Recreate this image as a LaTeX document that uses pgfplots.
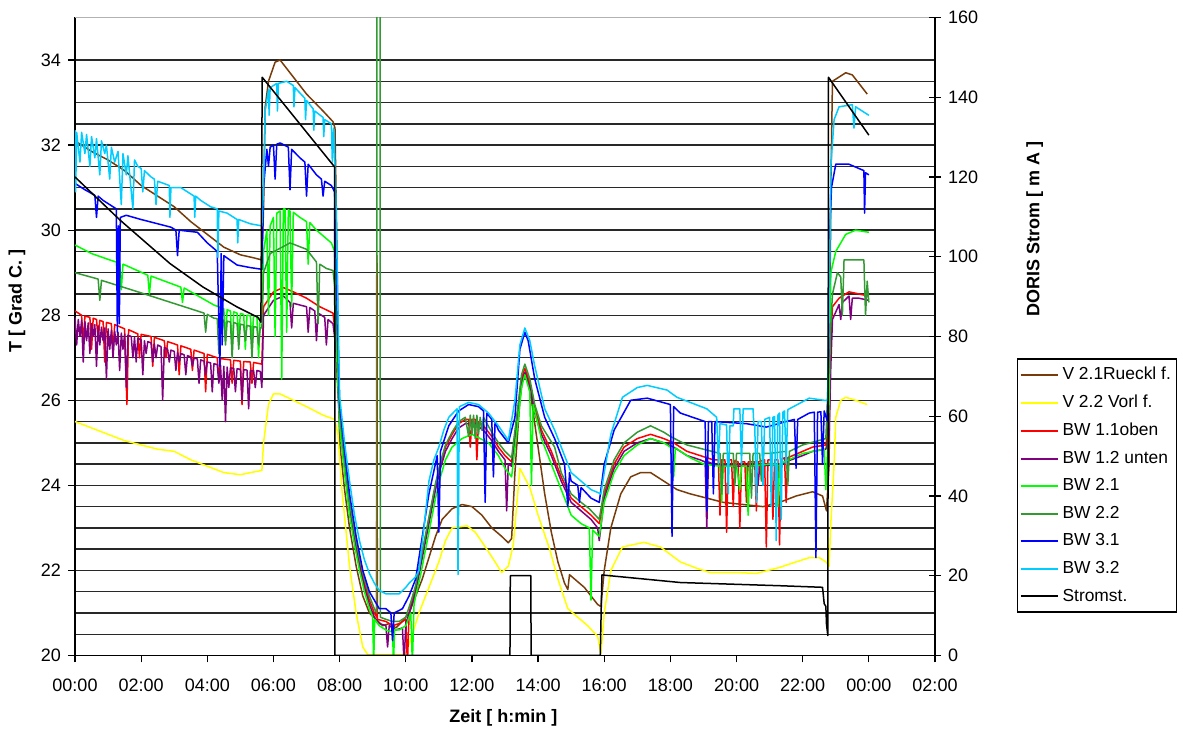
\documentclass[border=0pt]{standalone}
\usepackage{fontspec}
\setmainfont{Liberation Sans}
\usepackage{pgfplots}
\pgfplotsset{compat=1.18}

\definecolor{cbrown}{RGB}{120,60,10}
\definecolor{cyellow}{RGB}{255,255,0}
\definecolor{cred}{RGB}{255,0,0}
\definecolor{cpurple}{RGB}{128,0,128}
\definecolor{cgreen}{RGB}{0,255,0}
\definecolor{cdgreen}{RGB}{51,153,51}
\definecolor{cblue}{RGB}{0,0,255}
\definecolor{ccyan}{RGB}{0,204,255}
\definecolor{gridc}{RGB}{40,40,40}

\pgfplotsset{
  common/.style={
    scale only axis, width=430pt, height=319pt,
    xmin=0, xmax=26,
    axis line style={-, black, line width=0.75pt},
    tick style={black, line width=0.6pt},
    tick label style={font=\fontsize{9}{10}\selectfont},
    label style={font=\bfseries\fontsize{9}{10}\selectfont},
    /pgf/number format/assume math mode=true,
    every axis plot/.append style={line width=0.75pt, line join=round, mark=none},
  },
}

\begin{document}
\begin{tikzpicture}
% temperatures (left axis)
\begin{axis}[common,
  ymin=20, ymax=35,
  axis x line*=bottom, axis y line*=left,
  xtick={0,2,...,26},
  xticklabels={00:00,02:00,04:00,06:00,08:00,10:00,12:00,14:00,16:00,18:00,20:00,22:00,00:00,02:00},
  xticklabel style={yshift=-4.5pt},
  ytick={20,22,...,34},
  minor y tick num=3,
  ymajorgrids, yminorgrids,
  major grid style={gridc, line width=0.7pt},
  minor grid style={gridc, line width=0.7pt},
  extra y ticks={35}, extra y tick labels={},
  extra y tick style={grid=major, major grid style={black!30, line width=0.7pt}, major tick length=0pt},
  tick align=outside, major tick length=3.5pt, minor tick length=0pt,
  xlabel={Zeit [ h:min ]},
  xlabel style={at={(axis description cs:0.498,-0.0972)}, anchor=center},
  ylabel={T [ Grad C. ]},
  ylabel style={at={(axis description cs:-0.0674,0.556)}, anchor=center},
  legend style={at={(1.0953,0.4655)}, anchor=north west, draw=black, line width=0.6pt,
    fill=white, font=\fontsize{8.7}{10}\selectfont, cells={anchor=west}, row sep=2.2pt,
    inner xsep=1pt},
  legend image code/.code={\draw[#1] (0pt,0pt) -- (18.5pt,0pt);},
]
% legend keys
\addlegendimage{cbrown, line width=1pt}
\addlegendentry{V 2.1Rueckl f.}
\addlegendimage{cyellow, line width=1pt}
\addlegendentry{V 2.2 Vorl f.}
\addlegendimage{cred, line width=1pt}
\addlegendentry{BW 1.1oben}
\addlegendimage{cpurple, line width=1pt}
\addlegendentry{BW 1.2 unten}
\addlegendimage{cgreen, line width=1pt}
\addlegendentry{BW 2.1}
\addlegendimage{cdgreen, line width=1pt}
\addlegendentry{BW 2.2}
\addlegendimage{cblue, line width=1pt}
\addlegendentry{BW 3.1}
\addlegendimage{ccyan, line width=1pt}
\addlegendentry{BW 3.2}
\addlegendimage{black, line width=1pt}
\addlegendentry{Stromst.}
% V 2.1 Ruecklauf
\addplot[cbrown, forget plot] coordinates {
(0,32.1)(0.5,31.85)(1,31.65)(1.5,31.4)(2,31.05)(2.5,30.8)(3,30.55)(3.5,30.2)(4,29.9)(4.5,29.6)(5,29.42)(5.4,29.35)(5.65,29.3)(5.7,30.5)(5.75,32.9)(5.85,33.5)(6.05,33.95)(6.2,34.0)(6.5,33.7)(7,33.2)(7.5,32.8)(7.8,32.55)(7.86,32.4)(7.9,30.5)(8.0,25.0)(8.15,23.9)(8.3,23.0)(8.5,22.1)(8.7,21.4)(8.9,21.0)(9.1,20.85)(9.3,20.7)(9.5,20.75)(9.7,20.65)(9.9,20.8)(10.1,21.0)(10.3,21.4)(10.5,21.8)(10.7,22.3)(10.9,22.8)(11.1,23.2)(11.4,23.45)(11.7,23.55)(12,23.5)(12.3,23.3)(12.6,23.0)(12.9,22.8)(13.1,22.65)(13.2,22.75)(13.3,24.3)(13.45,26.0)(13.55,26.6)(13.65,26.65)(13.8,26.0)(14,24.9)(14.2,23.8)(14.4,22.9)(14.6,22.2)(14.8,21.7)(14.9,21.55)(14.95,21.9)(15.1,21.8)(15.4,21.6)(15.6,21.4)(15.8,21.2)(15.9,21.15)(16.0,22.0)(16.2,23.0)(16.5,23.8)(16.8,24.2)(17.1,24.3)(17.4,24.3)(17.8,24.1)(18.2,23.9)(18.6,23.8)(19.1,23.7)(19.6,23.6)(20.2,23.55)(20.8,23.5)(21.3,23.6)(21.8,23.75)(22.3,23.85)(22.6,23.75)(22.72,23.4)(22.8,24.5)(22.85,31.0)(22.9,33.5)(23.1,33.6)(23.3,33.7)(23.5,33.65)(23.7,33.45)(23.95,33.2)
};
% V 2.2 Vorlauf
\addplot[cyellow, forget plot] coordinates {
(0,25.5)(0.5,25.35)(1,25.2)(1.5,25.05)(2,24.95)(2.5,24.85)(3,24.8)(3.5,24.6)(4,24.45)(4.5,24.3)(5,24.25)(5.3,24.3)(5.65,24.35)(5.7,25.0)(5.85,25.9)(6.0,26.15)(6.2,26.15)(6.6,26.0)(7,25.85)(7.5,25.65)(7.85,25.55)(7.95,25.2)(8.07,23.9)(8.3,22.1)(8.5,21.0)(8.7,20.2)(8.85,20.02)(9.9,20.02)(10.0,20.05)(10.2,20.5)(10.4,21.0)(10.7,21.6)(11,22.2)(11.2,22.7)(11.4,23.0)(11.85,23.05)(12.1,22.9)(12.45,22.5)(12.7,22.2)(12.9,21.95)(13.1,22.1)(13.25,22.6)(13.45,24.4)(13.75,23.95)(14,23.3)(14.35,22.5)(14.6,21.8)(14.9,21.1)(15.2,20.9)(15.5,20.7)(15.8,20.45)(15.9,20.05)(16.0,21.0)(16.2,22.0)(16.55,22.55)(17.2,22.66)(17.7,22.55)(18.3,22.2)(18.8,22.05)(19.2,21.95)(20,21.95)(20.6,21.93)(21.3,22.07)(21.8,22.2)(22.2,22.3)(22.5,22.3)(22.7,22.2)(22.8,22.1)(22.85,23.1)(22.95,24.5)(23.0,25.6)(23.15,26.0)(23.3,26.07)(23.6,26.0)(23.95,25.9)
};
% BW 1.1 oben
\addplot[cred, forget plot] coordinates {
(0,28.1)(0.2,28.0)(0.25,27.3)(0.3,27.98)(0.45,27.95)(0.5,27.2)(0.55,27.93)(0.65,27.9)(0.7,27.4)(0.75,27.88)(0.85,27.85)(0.9,26.9)(0.95,27.83)(1.1,27.8)(1.15,27.1)(1.2,27.78)(1.5,27.68)(1.57,25.9)(1.62,27.66)(1.9,27.56)(1.95,27.0)(2.0,27.55)(2.3,27.5)(2.35,26.8)(2.4,27.48)(2.7,27.4)(2.75,27.0)(2.8,27.38)(3.1,27.3)(3.15,26.6)(3.2,27.28)(3.5,27.2)(3.55,26.7)(3.6,27.18)(3.9,27.1)(3.95,26.2)(4.0,27.08)(4.3,27.0)(4.35,26.5)(4.4,26.98)(4.7,26.95)(4.75,26.4)(4.8,26.94)(5.0,26.92)(5.05,25.9)(5.1,26.91)(5.3,26.9)(5.35,26.4)(5.4,26.89)(5.65,26.85)(5.7,28.2)(6.0,28.55)(6.3,28.65)(6.6,28.55)(7.0,28.4)(7.4,28.2)(7.8,28.05)(7.88,27.5)(8.0,25.6)(8.15,24.5)(8.3,23.5)(8.45,22.8)(8.6,22.2)(8.75,21.7)(8.9,21.3)(9.05,21.0)(9.12,20.9)(9.13,29.4)(9.14,20.85)(9.4,20.8)(9.6,20.7)(9.8,20.75)(10.0,20.85)(10.05,19.8)(10.1,20.95)(10.15,21.2)(10.3,21.6)(10.45,22.2)(10.6,22.8)(10.75,23.4)(10.9,24.0)(11.05,24.5)(11.2,24.9)(11.4,25.2)(11.6,25.45)(11.8,25.55)(11.9,25.55)(11.95,24.9)(12.0,25.55)(12.1,25.55)(12.15,24.6)(12.2,25.5)(12.4,25.35)(12.6,25.15)(12.8,24.9)(13.0,24.7)(13.2,24.55)(13.35,25.5)(13.5,26.5)(13.6,26.75)(13.75,26.4)(13.9,25.8)(14.1,25.3)(14.4,24.8)(14.7,24.2)(15.0,23.7)(15.3,23.5)(15.6,23.3)(15.85,23.1)(16.0,23.8)(16.3,24.5)(16.6,24.9)(17.0,25.1)(17.4,25.2)(17.8,25.1)(18.1,25.0)(18.5,24.8)(18.9,24.7)(19.3,24.6)(19.45,24.6)(19.5,23.3)(19.55,24.6)(19.65,24.6)(19.7,22.9)(19.75,24.6)(19.85,24.6)(19.9,23.5)(19.95,24.58)(20.05,24.55)(20.1,23.0)(20.15,24.55)(20.25,24.55)(20.3,23.6)(20.35,24.55)(20.55,24.55)(20.6,23.4)(20.65,24.55)(20.85,24.6)(20.9,22.55)(20.95,24.6)(21.05,24.6)(21.1,23.2)(21.15,24.6)(21.25,24.6)(21.3,22.6)(21.35,24.6)(21.45,24.65)(21.5,23.6)(21.55,24.65)(21.7,24.7)(22.0,24.8)(22.3,24.9)(22.7,24.95)(22.8,25.5)(22.85,27.5)(22.9,28.2)(23.1,28.4)(23.4,28.55)(23.7,28.5)(24.0,28.45)
};
% BW 1.2 unten
\addplot[cpurple, forget plot] coordinates {
(0.00,27.95)(0.05,27.3)(0.10,27.9)(0.15,27.5)(0.20,27.88)(0.25,26.9)(0.30,27.85)(0.35,27.4)(0.40,27.82)(0.45,27.1)(0.50,27.8)(0.55,27.5)(0.60,27.78)(0.65,26.8)(0.70,27.75)(0.75,27.3)(0.80,27.72)(0.85,27.4)(0.90,27.7)(0.95,26.5)(1.00,27.68)(1.05,27.2)(1.10,27.65)(1.15,27.0)(1.20,27.62)(1.25,27.3)(1.30,27.6)(1.35,26.7)(1.40,27.58)(1.45,27.2)(1.50,27.55)(1.55,26.3)(1.60,27.53)(1.70,27.5)(1.75,27.0)(1.80,27.48)(1.85,26.9)(1.90,27.46)(2.00,27.42)(2.05,26.6)(2.10,27.4)(2.15,27.1)(2.20,27.38)(2.30,27.35)(2.35,26.9)(2.40,27.33)(2.45,27.0)(2.50,27.3)(2.60,27.26)(2.65,26.0)(2.70,27.24)(2.80,27.2)(2.85,26.9)(2.90,27.18)(3.00,27.15)(3.05,26.7)(3.10,27.13)(3.15,26.9)(3.20,27.1)(3.30,27.07)(3.35,26.6)(3.40,27.05)(3.50,27.02)(3.55,26.8)(3.60,27.0)(3.70,26.97)(3.75,26.4)(3.80,26.95)(3.90,26.92)(3.95,26.6)(4.00,26.9)(4.10,26.88)(4.15,26.2)(4.20,26.86)(4.30,26.84)(4.35,26.4)(4.40,26.82)(4.45,26.0)(4.50,26.8)(4.55,25.5)(4.60,26.78)(4.65,26.3)(4.70,26.76)(4.80,26.75)(4.85,26.2)(4.90,26.74)(5.00,26.73)(5.05,26.0)(5.10,26.72)(5.20,26.71)(5.25,25.8)(5.30,26.7)(5.40,26.7)(5.45,26.3)(5.50,26.7)(5.60,26.68)(5.65,26.3)(5.7,28.0)(6.0,28.35)(6.3,28.45)(6.5,28.3)(6.55,27.7)(6.6,28.28)(7.0,28.2)(7.05,27.6)(7.1,28.18)(7.25,28.1)(7.3,27.4)(7.35,28.05)(7.55,27.95)(7.6,27.3)(7.65,27.9)(7.8,27.8)(7.88,27.3)(8.0,25.4)(8.15,24.4)(8.3,23.4)(8.45,22.7)(8.6,22.1)(8.75,21.6)(8.9,21.2)(9.05,20.9)(9.2,20.75)(9.4,20.7)(9.45,20.2)(9.5,20.7)(9.7,20.6)(9.9,20.65)(9.95,19.8)(10.0,20.75)(10.15,21.1)(10.3,21.5)(10.45,22.1)(10.6,22.7)(10.75,23.3)(10.9,23.9)(11.05,24.4)(11.2,24.8)(11.4,25.1)(11.6,25.35)(11.8,25.45)(12.1,25.45)(12.4,25.25)(12.6,25.05)(12.8,24.8)(13.0,24.6)(13.05,23.4)(13.1,24.5)(13.2,24.45)(13.35,25.4)(13.5,26.4)(13.6,26.65)(13.75,26.3)(13.9,25.7)(14.1,25.2)(14.4,24.7)(14.7,24.1)(15.0,23.6)(15.3,23.4)(15.6,23.2)(15.8,23.0)(15.85,22.7)(16.0,23.7)(16.3,24.4)(16.6,24.8)(17.0,25.0)(17.4,25.1)(17.8,25.0)(18.1,24.9)(18.5,24.7)(18.9,24.6)(19.05,24.55)(19.1,23.0)(19.15,24.55)(19.3,24.5)(20.0,24.45)(20.6,24.45)(20.65,24.0)(20.7,24.45)(21.3,24.5)(22.0,24.7)(22.3,24.8)(22.7,24.85)(22.8,25.2)(22.85,26.8)(22.9,27.9)(23.1,28.25)(23.15,27.9)(23.2,28.3)(23.4,28.45)(23.45,27.9)(23.5,28.4)(23.7,28.4)(24.0,28.35)
};
% BW 2.1
\addplot[cgreen, forget plot] coordinates {
(0,29.65)(0.5,29.45)(1.05,29.3)(1.25,29.25)(1.3,28.3)(1.35,29.22)(1.4,28.6)(1.45,29.2)(1.6,29.15)(2.2,28.94)(2.25,28.5)(2.3,28.92)(3.2,28.66)(3.25,28.3)(3.3,28.64)(4.2,28.24)(4.5,28.15)(4.55,27.4)(4.6,28.13)(4.7,28.1)(4.75,27.1)(4.8,28.08)(4.9,28.05)(4.95,27.5)(5.0,28.04)(5.1,28.02)(5.15,27.2)(5.2,28.0)(5.3,27.99)(5.35,27.4)(5.4,27.98)(5.5,27.97)(5.55,27.0)(5.6,27.95)(5.65,27.9)(5.7,29.5)(5.8,30.0)(5.85,28.0)(5.9,30.1)(6.0,30.3)(6.05,27.5)(6.1,30.4)(6.2,30.45)(6.25,26.5)(6.3,30.5)(6.35,30.5)(6.4,27.6)(6.45,30.48)(6.5,30.45)(6.55,28.2)(6.6,30.42)(6.8,30.3)(7.0,30.2)(7.05,29.2)(7.1,30.18)(7.3,30.0)(7.75,29.7)(7.85,29.5)(7.9,27.3)(8.0,25.4)(8.15,24.3)(8.3,23.3)(8.45,22.6)(8.6,22.0)(8.75,21.5)(8.9,21.1)(9.0,20.9)(9.03,19.8)(9.06,20.85)(9.2,20.7)(9.4,20.6)(9.6,20.55)(9.63,19.8)(9.66,20.6)(9.8,20.6)(10.0,20.7)(10.15,21.0)(10.2,19.8)(10.25,21.2)(10.3,21.4)(10.45,21.9)(10.6,22.5)(10.75,23.1)(10.9,23.7)(11.05,24.2)(11.2,24.6)(11.4,24.9)(11.7,25.1)(12.0,25.2)(12.5,25.0)(12.8,24.7)(13.0,24.4)(13.2,24.2)(13.35,25.2)(13.5,26.3)(13.6,26.6)(13.75,26.2)(13.8,24.0)(13.85,25.9)(14.1,25.1)(14.5,24.3)(15.0,23.3)(15.3,23.1)(15.55,23.0)(15.6,21.3)(15.65,22.95)(15.85,22.8)(16.0,23.6)(16.3,24.3)(16.6,24.7)(17.0,24.95)(17.4,25.1)(17.8,25.0)(18.0,24.9)(18.1,24.2)(18.15,24.88)(18.6,24.65)(19.0,24.5)(19.5,24.45)(19.55,23.6)(19.6,24.45)(20.0,24.45)(20.1,23.9)(20.15,24.45)(20.3,24.45)(20.35,23.3)(20.4,24.45)(21.0,24.5)(21.2,24.5)(21.25,23.5)(21.3,24.5)(22.0,24.75)(22.65,24.85)(22.7,23.9)(22.75,24.8)(22.8,26.0)(22.85,29.0)(23.0,29.5)(23.3,29.9)(23.6,30.0)(24.0,29.95)
};
% BW 2.2
\addplot[cdgreen, forget plot] coordinates {
(0,29.0)(0.7,28.85)(0.75,28.35)(0.8,28.82)(1.9,28.55)(2.9,28.3)(3.7,28.1)(3.9,28.05)(3.95,27.6)(4.0,28.02)(4.2,27.93)(4.3,27.92)(4.35,27.1)(4.4,27.9)(4.5,27.88)(4.55,27.3)(4.6,27.86)(4.7,27.84)(4.75,27.0)(4.8,27.83)(4.9,27.8)(4.95,27.2)(5.0,27.79)(5.1,27.77)(5.15,27.4)(5.2,27.76)(5.3,27.74)(5.35,27.0)(5.4,27.73)(5.5,27.72)(5.55,27.3)(5.6,27.7)(5.65,27.7)(5.7,29.0)(5.9,29.45)(6.5,29.7)(7.0,29.55)(7.3,29.25)(7.35,27.8)(7.4,29.2)(7.6,29.1)(7.8,29.05)(7.88,28.5)(8.0,25.7)(8.15,24.6)(8.3,23.6)(8.45,22.9)(8.6,22.3)(8.75,21.8)(8.9,21.4)(9.05,21.1)(9.12,21.0)(9.125,36)(9.225,36)(9.23,20.9)(9.4,20.85)(9.6,20.8)(9.8,20.8)(10.0,20.9)(10.15,21.25)(10.3,21.65)(10.45,22.25)(10.6,22.85)(10.75,23.45)(10.9,24.05)(11.05,24.55)(11.2,24.95)(11.4,25.25)(11.6,25.5)(11.8,25.6)(11.9,25.15)(11.95,25.65)(12.0,25.2)(12.05,25.65)(12.1,25.1)(12.15,25.65)(12.2,25.2)(12.25,25.6)(12.3,25.3)(12.35,25.6)(12.6,25.25)(12.8,25.0)(13.0,24.8)(13.2,24.65)(13.35,25.6)(13.5,26.6)(13.6,26.85)(13.75,26.5)(13.9,25.9)(14.1,25.4)(14.5,24.9)(14.7,24.3)(15.0,23.8)(15.3,23.6)(15.55,23.45)(15.85,23.2)(16.0,23.9)(16.3,24.6)(16.6,25.0)(17.0,25.25)(17.4,25.4)(17.8,25.25)(18.0,25.15)(18.5,24.95)(19.0,24.85)(19.5,24.75)(19.55,23.8)(19.6,24.75)(19.9,24.75)(19.95,24.0)(20.0,24.75)(20.4,24.75)(20.45,23.7)(20.5,24.75)(20.7,24.75)(20.75,24.1)(20.8,24.75)(21.0,24.75)(21.5,24.8)(21.55,24.0)(21.6,24.8)(22.0,24.95)(22.7,25.1)(22.8,27.0)(22.9,28.5)(23.05,29.0)(23.15,28.9)(23.2,28.0)(23.25,29.3)(23.85,29.3)(23.9,28.0)(23.95,28.8)(24.0,28.3)
};
% BW 3.1
\addplot[cblue, forget plot] coordinates {
(0,31.1)(0.3,30.95)(0.6,30.82)(0.65,30.3)(0.7,30.8)(0.85,30.7)(1.25,30.5)(1.28,27.6)(1.31,30.1)(1.34,27.8)(1.37,30.3)(1.55,30.35)(2.0,30.25)(2.5,30.15)(2.9,30.07)(3.05,30.0)(3.1,29.4)(3.15,30.0)(3.7,29.95)(4.0,29.7)(4.3,29.5)(4.38,26.8)(4.42,29.45)(4.45,27.3)(4.5,29.4)(4.9,29.18)(5.3,29.12)(5.65,29.08)(5.7,31.0)(5.8,31.9)(5.85,31.5)(5.9,31.95)(6.0,32.0)(6.05,31.2)(6.1,32.02)(6.2,32.05)(6.45,31.95)(6.5,30.95)(6.55,31.9)(6.8,31.7)(6.95,31.6)(7.0,30.8)(7.05,31.55)(7.3,31.3)(7.45,31.2)(7.5,30.8)(7.55,31.15)(7.75,31.05)(7.85,30.9)(7.9,29.0)(8.0,25.9)(8.15,24.8)(8.3,23.8)(8.5,22.8)(8.7,22.0)(8.9,21.5)(9.2,21.1)(9.4,21.1)(9.55,21.0)(9.6,20.35)(9.65,21.0)(9.9,21.1)(10.1,21.4)(10.3,21.8)(10.5,22.8)(10.7,23.8)(10.95,24.7)(11.0,22.9)(11.05,24.8)(11.3,25.4)(11.6,25.75)(11.9,25.9)(12.2,25.85)(12.35,25.75)(12.4,23.6)(12.45,25.7)(12.6,25.55)(12.65,24.2)(12.7,25.5)(12.8,25.3)(13.1,25.0)(13.3,25.6)(13.45,27.2)(13.6,27.6)(13.7,27.4)(13.9,26.5)(14.2,25.6)(14.5,25.1)(14.8,24.5)(14.9,23.5)(14.95,24.3)(15.0,24.1)(15.2,24.0)(15.25,23.6)(15.3,23.95)(15.6,23.7)(15.85,23.6)(16.0,24.5)(16.3,25.3)(16.8,26.0)(17.3,26.05)(18.0,25.9)(18.05,22.8)(18.1,25.85)(18.3,25.7)(19.05,25.5)(19.1,23.4)(19.15,25.5)(19.25,25.5)(19.3,23.8)(19.35,25.5)(20.3,25.45)(20.9,25.37)(21.5,25.5)(21.75,25.55)(21.8,24.4)(21.85,25.55)(22.2,25.7)(22.35,25.72)(22.4,22.3)(22.45,25.72)(22.55,25.73)(22.6,24.5)(22.65,25.75)(22.75,25.5)(22.78,27.0)(22.82,30.0)(22.87,31.0)(23.0,31.55)(23.4,31.55)(23.7,31.45)(23.85,31.4)(23.87,30.4)(23.9,31.35)(24.0,31.3)
};
% BW 3.2
\addplot[ccyan, forget plot] coordinates {
(0,32.35)(0.02,30.9)(0.05,32.3)(0.15,31.6)(0.2,32.3)(0.3,31.8)(0.35,32.25)(0.45,31.5)(0.5,32.2)(0.6,31.7)(0.65,32.15)(0.75,31.3)(0.8,32.1)(0.9,31.8)(0.95,32.0)(1.05,31.2)(1.1,31.95)(1.2,31.6)(1.3,31.85)(1.4,30.6)(1.45,31.8)(1.55,31.3)(1.6,31.75)(1.75,30.5)(1.8,31.65)(1.9,31.5)(2.0,31.45)(2.05,30.9)(2.1,31.4)(2.3,31.25)(2.4,31.2)(2.45,30.6)(2.5,31.15)(2.85,31.05)(2.87,30.3)(2.9,31.0)(3.2,31.0)(3.4,30.9)(3.6,30.8)(3.62,30.3)(3.65,30.8)(3.8,30.7)(4.1,30.55)(4.3,30.5)(4.32,29.36)(4.35,30.45)(4.6,30.4)(4.9,30.25)(4.92,29.7)(4.95,30.25)(5.3,30.15)(5.65,30.1)(5.7,31.0)(5.75,32.8)(5.85,33.3)(5.87,32.7)(5.9,33.35)(6.1,33.45)(6.12,32.8)(6.15,33.45)(6.4,33.5)(6.6,33.4)(6.62,32.9)(6.65,33.35)(6.95,33.1)(6.97,32.6)(7.0,33.05)(7.2,32.85)(7.22,32.35)(7.25,32.8)(7.5,32.65)(7.52,32.2)(7.55,32.6)(7.75,32.5)(7.78,31.6)(7.82,32.4)(7.88,31.0)(8.0,26.1)(8.15,25.0)(8.3,24.1)(8.45,23.3)(8.6,22.7)(8.75,22.25)(8.9,21.93)(9.05,21.7)(9.2,21.53)(9.4,21.45)(9.6,21.45)(9.8,21.45)(10.0,21.6)(10.1,21.7)(10.3,21.85)(10.4,22.0)(10.55,23.0)(10.7,24.1)(10.85,24.6)(11.0,24.9)(11.15,25.3)(11.3,25.6)(11.55,25.8)(11.58,21.9)(11.62,25.85)(11.9,25.95)(12.2,25.9)(12.5,25.7)(12.8,25.4)(13.1,25.06)(13.3,26.0)(13.45,27.3)(13.6,27.7)(13.75,27.4)(13.9,26.8)(14.2,25.8)(14.5,25.3)(14.8,24.7)(15.0,24.3)(15.3,24.1)(15.6,23.9)(15.9,23.8)(16.0,24.3)(16.2,25.2)(16.55,26.07)(17.0,26.3)(17.3,26.35)(17.9,26.24)(18.2,26.07)(18.6,25.95)(19.1,25.8)(19.4,25.6)(19.45,24.5)(19.5,25.45)(19.7,25.42)(19.75,23.8)(19.8,25.4)(19.9,25.4)(19.92,25.8)(20.1,25.8)(20.15,24.5)(20.2,25.8)(20.5,25.8)(20.52,25.45)(20.55,25.45)(20.6,23.6)(20.65,25.5)(20.75,25.5)(20.8,24.0)(20.85,25.55)(21.0,25.6)(21.05,23.5)(21.1,25.6)(21.15,25.62)(21.2,22.7)(21.25,25.65)(21.3,25.7)(21.35,23.2)(21.4,25.72)(21.45,25.75)(21.5,24.5)(21.55,25.78)(22.2,26.05)(22.65,26.0)(22.75,26.0)(22.8,28.0)(22.85,31.5)(22.95,32.6)(23.1,32.9)(23.5,32.95)(23.55,32.4)(23.6,32.9)(23.9,32.75)(24.0,32.7)
};
\end{axis}

% beam current (right axis)
\begin{axis}[common,
  ymin=0, ymax=160,
  axis y line*=right, axis x line=none,
  ytick={0,20,...,160},
  tick align=center, major tick length=6pt,
  ylabel={DORIS Strom [ m A ]},
  ylabel style={at={(axis description cs:1.116,0.669)}, anchor=center, rotate=0},
]
\addplot[black] coordinates {
(0,120)(1.36,109.2)(2.87,98.3)(3.87,92.4)(4.9,87.4)(5.53,84.8)(5.62,83.6)(5.66,145)(7.85,122.5)(7.86,0)(13.15,0)(13.16,20)(13.78,20)(13.79,0)(15.88,0)(15.93,20.2)(18.3,18.3)(21.3,17.5)(22.6,17.1)(22.65,13)(22.7,12.3)(22.72,7.8)(22.76,5)(22.78,145)(24.0,130.5)
};
\end{axis}

\pgfresetboundingbox
\path[use as bounding box] (-37.5pt,-38pt) rectangle (554pt,327.75pt);
\end{tikzpicture}
\end{document}
